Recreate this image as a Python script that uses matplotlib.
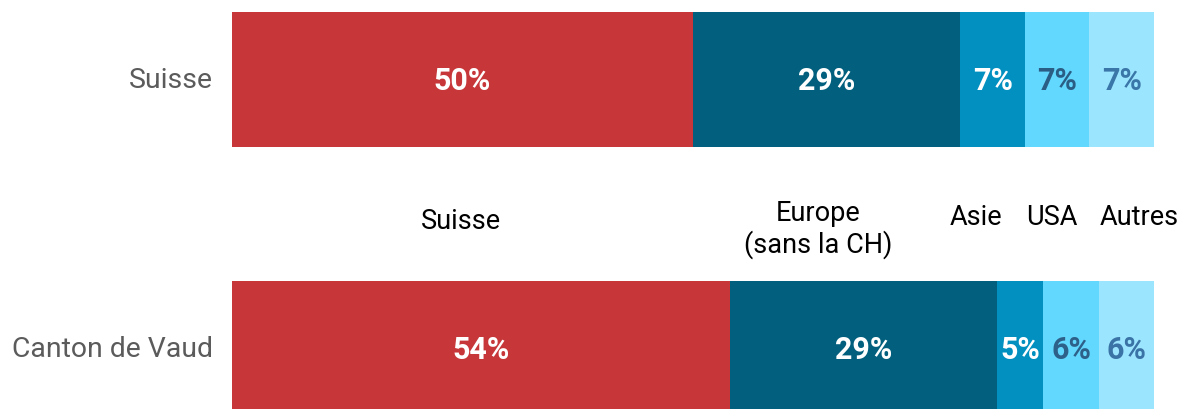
import matplotlib
matplotlib.use("Agg")
import matplotlib.pyplot as plt

regions = ["Suisse", "Canton de Vaud"]
origins = ["Suisse", "Europe\n(sans la CH)", "Asie", "USA", "Autres"]
suisse_vals = [50, 29, 7, 7, 7]
vaud_vals = [54, 29, 5, 6, 6]

colors = ["#C7373A", "#02607E", "#0290C0", "#62D8FF", "#9CE5FF"]
label_colors = ["white", "white", "white", "#2B5E85", "#3A76A8"]
bottom_label_colors = ["white", "white", "white", "#2E6189", "#3A74A6"]

# layout for origin captions (x in data %, baseline y of last line in data units)
caption_x = [24.8, 63.6, 80.7, 88.9, 98.4]
caption_y = [0.4479, 0.3587, 0.4628, 0.4628, 0.4628]

plt.rcParams["font.family"] = ["Roboto", "DejaVu Sans"]

W, H = 1182, 410
fig = plt.figure(figsize=(W / 100, H / 100), dpi=100)
ax = fig.add_axes([232 / W, 0, 922 / W, 1])

ypos = [1, 0]
for yi, vals, lcols in zip(ypos, [suisse_vals, vaud_vals], [label_colors, bottom_label_colors]):
    left = 0
    for v, c, lc in zip(vals, colors, lcols):
        ax.barh(yi, v, left=left, height=0.502, color=c, edgecolor="none")
        ax.text(left + v / 2, yi - 0.0353, f"{v}%", ha="center", va="baseline",
                color=lc, fontsize=22, fontweight="bold")
        left += v

for name, x, y in zip(origins, caption_x, caption_y):
    ax.text(x, y, name, ha="center", va="baseline", fontsize=19.5,
            color="black", linespacing=1.18)

for name, yi in zip(regions, ypos):
    ax.text(-2.1, yi - 0.0297, name, ha="right", va="baseline", fontsize=20.4,
            color="#5B5B5B")

ax.set_xlim(0, 100)
ax.set_ylim(-0.2249, 1.2992)
ax.axis("off")
fig.savefig("out.png", dpi=100)
